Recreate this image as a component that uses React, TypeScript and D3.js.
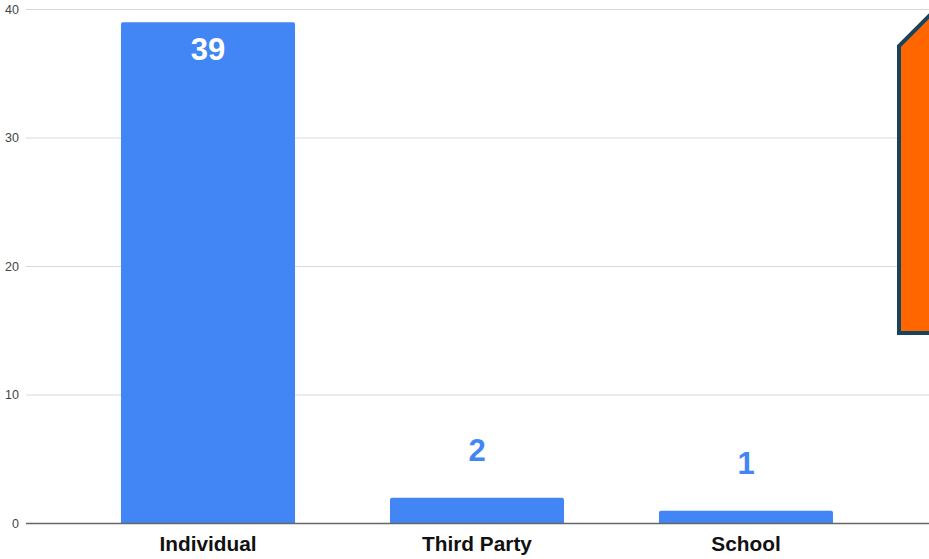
import React from "react";
import * as d3 from "d3";

const categories = ["Individual", "Third Party", "School"];
const counts = [39, 2, 1];
const yTicks = [0, 10, 20, 30, 40];

const W = 929;
const H = 559;

export default function App() {
  const x = d3
    .scaleBand<string>()
    .domain(categories)
    .range([73.5, 880.5])
    .paddingInner(0.353)
    .paddingOuter(0.1765);
  const y = d3.scaleLinear().domain([0, 40]).range([523.5, 9.5]);

  // decorative callout panel at the right edge
  const callout = d3.line()([
    [899, 333],
    [899, 46],
    [939, 6],
    [979, 46],
    [979, 333],
  ]) + "Z";

  return (
    <svg
      width={W}
      height={H}
      style={{ position: "absolute", left: 0, top: 0, background: "#fff" }}
      fontFamily="Arial, 'Liberation Sans', sans-serif"
    >
      {yTicks.map((t) => (
        <g key={t}>
          {t !== 0 && (
            <line x1={26} x2={W} y1={y(t)} y2={y(t)} stroke="#d9d9d9" strokeWidth={1} />
          )}
          <text x={19} y={y(t)} dy="0.35em" textAnchor="end" fontSize={12.5} fill="#444">
            {t}
          </text>
        </g>
      ))}
      {categories.map((c, i) => {
        const bx = x(c)!;
        const bw = x.bandwidth();
        const top = y(counts[i]);
        const inside = counts[i] > 10;
        return (
          <g key={c}>
            <path
              d={`M${bx},${y(0)} V${top + 2} Q${bx},${top} ${bx + 2},${top} H${bx + bw - 2} Q${bx + bw},${top} ${bx + bw},${top + 2} V${y(0)} Z`}
              fill="#4285f4"
            />
            <text
              x={bx + bw / 2}
              y={inside ? top + 38 : top - 37}
              textAnchor="middle"
              fontSize={31}
              fontWeight="bold"
              fill={inside ? "#ffffff" : "#4285f4"}
            >
              {counts[i]}
            </text>
            <text
              x={bx + bw / 2}
              y={551}
              textAnchor="middle"
              fontSize={20.8}
              fontWeight="bold"
              fill="#111"
            >
              {c}
            </text>
          </g>
        );
      })}
      <line x1={26} x2={W} y1={y(0)} y2={y(0)} stroke="#666" strokeWidth={1.5} />
      <path d={callout} fill="#ff6600" stroke="#17435f" strokeWidth={4} strokeLinejoin="miter" />
    </svg>
  );
}
